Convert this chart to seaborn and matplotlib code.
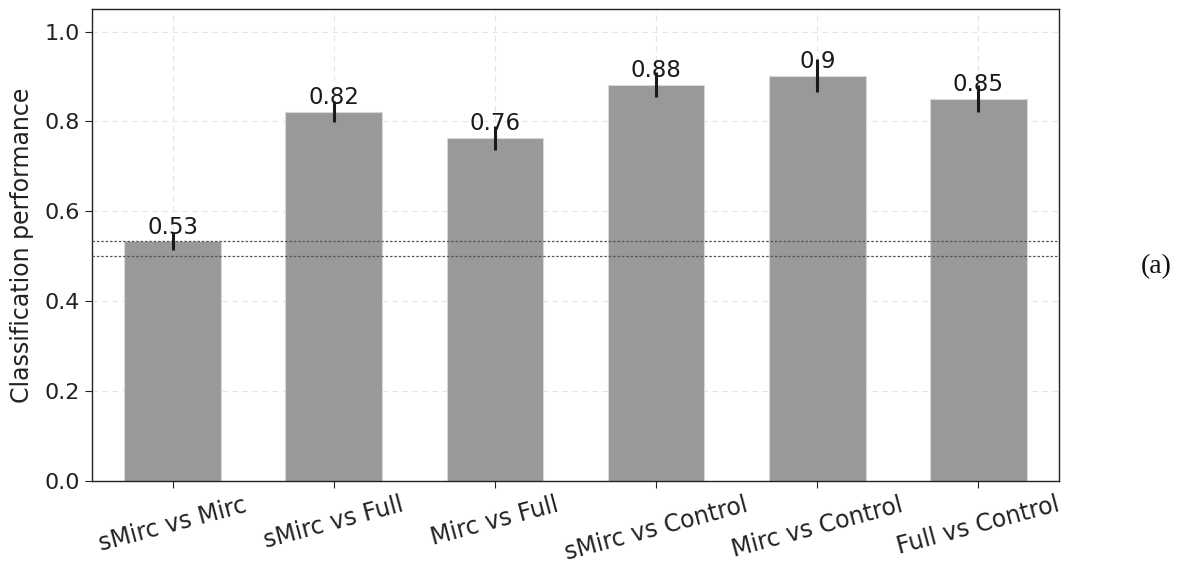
import matplotlib
matplotlib.use("Agg")
import matplotlib.pyplot as plt
import seaborn as sns
import pandas as pd

# Pairwise classification results
comparisons = ["sMirc vs Mirc", "sMirc vs Full", "Mirc vs Full",
               "sMirc vs Control", "Mirc vs Control", "Full vs Control"]
performance = [0.533, 0.822, 0.763, 0.882, 0.902, 0.851]
errors = [0.020, 0.024, 0.026, 0.028, 0.036, 0.030]
value_labels = ["0.53", "0.82", "0.76", "0.88", "0.9", "0.85"]
reference_levels = [0.5, 0.533]

df = pd.DataFrame({"comparison": comparisons, "performance": performance})

sns.set_style("ticks")
plt.rcParams["font.family"] = ["DejaVu Sans"]

fig = plt.figure(figsize=(11.8, 5.69), dpi=100)
ax = fig.add_axes([0.078, 0.1547, 0.8195, 0.8293])

sns.barplot(data=df, x="comparison", y="performance", color="#999999",
            width=0.6, errorbar=None, saturation=1, edgecolor="#d8d8d8",
            linewidth=0.8, ax=ax, zorder=2)

xs = list(range(len(comparisons)))
ax.errorbar(xs, performance, yerr=errors, fmt="none", ecolor="#1a1a1a",
            elinewidth=2.2, capsize=0, zorder=4)

for x, v, lab in zip(xs, performance, value_labels):
    ax.text(x, v + 0.006, lab, ha="center", va="bottom", fontsize=16.5,
            color="#1a1a1a", zorder=5)

for lvl in reference_levels:
    ax.axhline(lvl, ls=(0, (2, 1.5)), color="#555555", lw=0.9, zorder=3)

ax.set_xlim(-0.5, len(comparisons) - 0.5)
ax.set_ylim(0, 1.05)
ax.set_yticks([0.0, 0.2, 0.4, 0.6, 0.8, 1.0])
ax.grid(True, ls=(0, (5, 4)), color="#e4e4e4", lw=0.8, zorder=0)
ax.set_axisbelow(True)

ax.set_xlabel("")
ax.set_ylabel("Classification performance", fontsize=17, color="#222222",
              labelpad=8)
ax.tick_params(axis="y", labelsize=16, colors="#222222", length=5)
ax.tick_params(axis="x", labelsize=17, colors="#222222", length=5)
plt.setp(ax.get_xticklabels(), rotation=15)

for s in ax.spines.values():
    s.set_visible(True)
    s.set_color("#222222")
    s.set_linewidth(1.0)

fig.text(0.9795, 0.532, "(a)", family=["Liberation Serif", "DejaVu Serif"],
         fontsize=20, ha="center", va="center", color="#111111")

fig.savefig("out.png", dpi=100)
